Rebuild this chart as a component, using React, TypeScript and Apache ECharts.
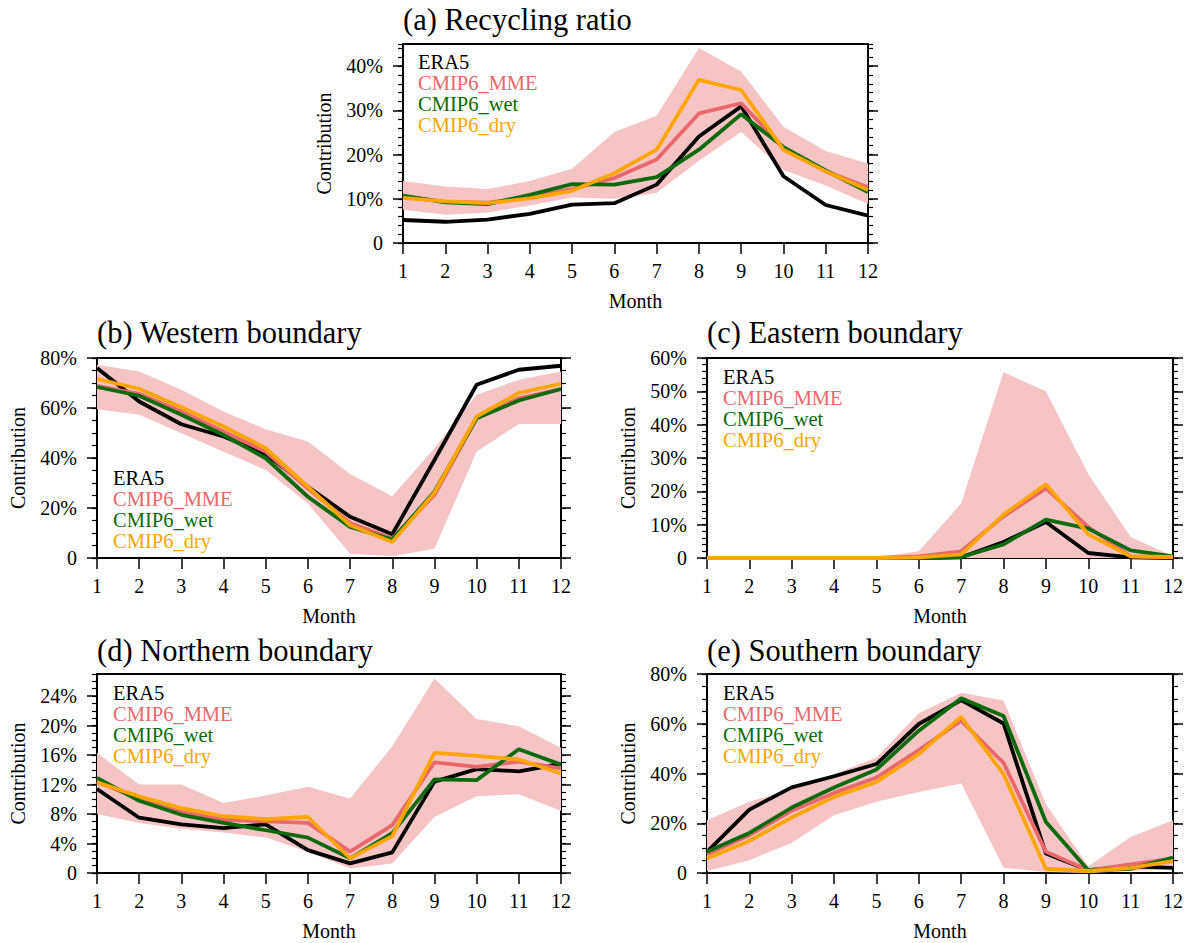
import React, { useEffect, useRef } from "react";
import * as echarts from "echarts";

const months = ["1", "2", "3", "4", "5", "6", "7", "8", "9", "10", "11", "12"];
const seriesNames = ["ERA5", "CMIP6_MME", "CMIP6_wet", "CMIP6_dry"];
const seriesColors = ["#000000", "#e8686c", "#0b6b0b", "#ffa500"];
const bandColor = "#f7c4c6";

// (a) Recycling ratio
const aERA5 = [5.2, 4.8, 5.3, 6.6, 8.7, 9.0, 13.2, 24.1, 30.9, 15.1, 8.6, 6.2];
const aMME = [10.6, 9.3, 9.1, 10.3, 12.2, 14.7, 18.9, 29.3, 31.6, 21.5, 16.2, 12.6];
const aWet = [10.7, 9.2, 8.8, 10.9, 13.3, 13.2, 14.9, 21.1, 29.1, 21.7, 16.4, 11.5];
const aDry = [10.2, 9.4, 9.0, 10.1, 11.8, 15.8, 21.1, 36.9, 34.6, 21.1, 16.2, 12.0];
const aLow = [7.5, 6.4, 6.9, 8.5, 10.3, 10.0, 11.3, 18.6, 25.1, 16.5, 13.0, 8.8];
const aHigh = [14.0, 12.8, 12.2, 14.0, 16.8, 25.1, 28.8, 44.1, 38.8, 26.3, 20.8, 18.0];

// (b) Western boundary
const bERA5 = [76.0, 62.6, 53.5, 48.6, 41.6, 28.5, 16.5, 9.5, 39.2, 69.3, 75.3, 76.9];
const bMME = [68.9, 65.7, 58.6, 50.6, 42.5, 27.8, 14.0, 7.8, 25.2, 55.9, 63.9, 67.6];
const bWet = [68.4, 64.9, 57.3, 49.2, 39.9, 24.5, 12.4, 7.4, 26.5, 55.9, 63.0, 67.6];
const bDry = [71.6, 67.7, 60.3, 52.6, 43.9, 28.5, 13.1, 6.4, 26.1, 56.6, 66.0, 69.7];
const bLow = [59.5, 57.3, 49.9, 42.5, 35.2, 21.8, 1.7, 0.7, 3.7, 42.5, 53.6, 53.6];
const bHigh = [77.3, 74.6, 67.3, 58.6, 51.5, 46.6, 33.6, 24.7, 43.9, 65.3, 71.3, 74.6];

// (c) Eastern boundary
const cERA5 = [0, 0, 0, 0, 0, 0, 0.2, 4.8, 10.8, 1.5, 0.2, 0];
const cMME = [0, 0, 0, 0, 0, 0.5, 2.0, 12.5, 20.9, 9.3, 0.5, 0.2];
const cWet = [0, 0, 0, 0, 0, 0, 0.3, 4.1, 11.5, 8.8, 2.3, 0.5];
const cDry = [0, 0, 0, 0, 0, 0.2, 1.1, 13.0, 22.1, 7.1, 0.5, 0.3];
const cLow = [0, 0, 0, 0, 0, 0, 0, 0, 0, 0, 0, 0];
const cHigh = [0, 0, 0, 0, 0.2, 2.0, 16.4, 55.7, 50.0, 25.2, 6.3, 0.5];

// (d) Northern boundary
const dERA5 = [11.4, 7.5, 6.6, 6.1, 6.6, 3.1, 1.3, 2.8, 12.4, 14.1, 13.8, 14.8];
const dMME = [12.4, 10.0, 8.3, 7.2, 7.0, 6.8, 2.9, 6.5, 15.0, 14.4, 15.1, 14.2];
const dWet = [12.9, 9.8, 7.9, 6.8, 5.8, 4.8, 2.0, 5.4, 12.7, 12.6, 16.8, 14.7];
const dDry = [12.3, 10.4, 8.8, 7.7, 7.3, 7.6, 2.0, 5.0, 16.3, 15.9, 15.4, 13.5];
const dLow = [8.0, 6.8, 6.0, 5.5, 4.8, 2.9, 0.6, 1.3, 7.6, 10.4, 10.7, 8.4];
const dHigh = [16.3, 12.0, 12.0, 9.5, 10.5, 11.7, 10.1, 17.2, 26.4, 20.9, 19.9, 17.0];

// (e) Southern boundary
const eERA5 = [8.5, 25.5, 34.4, 38.9, 43.8, 59.9, 69.5, 60.1, 7.8, 1.1, 2.7, 2.1];
const eMME = [7.5, 15.2, 25.0, 32.2, 38.4, 49.4, 61.2, 44.3, 8.5, 1.1, 3.5, 5.8];
const eWet = [8.5, 16.1, 26.3, 34.4, 41.6, 57.2, 70.2, 63.1, 20.5, 1.1, 1.7, 6.2];
const eDry = [5.8, 12.9, 22.3, 30.6, 36.6, 47.8, 62.8, 39.7, 1.7, 0.8, 2.1, 4.8];
const eLow = [0.8, 5.1, 12.1, 23.2, 28.6, 32.6, 36.0, 2.1, 0.4, 0, 0.8, 1.7];
const eHigh = [21.2, 28.6, 33.6, 39.7, 46.4, 64.2, 72.5, 69.3, 27.7, 2.7, 14.5, 21.2];

// y-axis tick values
const aTicks = [0, 10, 20, 30, 40];
const bTicks = [0, 20, 40, 60, 80];
const cTicks = [0, 10, 20, 30, 40, 50, 60];
const dTicks = [0, 4, 8, 12, 16, 20, 24];
const eTicks = [0, 20, 40, 60, 80];

const FONT = "'Liberation Serif', 'Times New Roman', serif";

const panels = [
  { title: "(a) Recycling ratio", lines: [aERA5, aMME, aWet, aDry], low: aLow, high: aHigh, max: 45, ticks: aTicks, minor: 2,
    grid: { left: 403, top: 44, width: 465, height: 199 }, titlePos: { left: 403, top: 5 }, legendPos: { left: 413, top: 51 } },
  { title: "(b) Western boundary", lines: [bERA5, bMME, bWet, bDry], low: bLow, high: bHigh, max: 80, ticks: bTicks, minor: 5,
    grid: { left: 97, top: 358, width: 464, height: 200 }, titlePos: { left: 97, top: 318 }, legendPos: { left: 108, top: 467 } },
  { title: "(c) Eastern boundary", lines: [cERA5, cMME, cWet, cDry], low: cLow, high: cHigh, max: 60, ticks: cTicks, minor: 2,
    grid: { left: 707, top: 358, width: 466, height: 200 }, titlePos: { left: 707, top: 318 }, legendPos: { left: 718, top: 366 } },
  { title: "(d) Northern boundary", lines: [dERA5, dMME, dWet, dDry], low: dLow, high: dHigh, max: 27, ticks: dTicks, minor: 1,
    grid: { left: 97, top: 674, width: 464, height: 199 }, titlePos: { left: 97, top: 636 }, legendPos: { left: 108, top: 682 } },
  { title: "(e) Southern boundary", lines: [eERA5, eMME, eWet, eDry], low: eLow, high: eHigh, max: 80, ticks: eTicks, minor: 5,
    grid: { left: 707, top: 674, width: 466, height: 199 }, titlePos: { left: 707, top: 636 }, legendPos: { left: 718, top: 682 } },
];

function pct(v: number) {
  return v === 0 ? "0" : v + "%";
}

function buildOption() {
  const title: any[] = [];
  const grid: any[] = [];
  const xAxis: any[] = [];
  const yAxis: any[] = [];
  const series: any[] = [];
  const legend: any[] = [];

  panels.forEach((p, i) => {
    title.push({
      text: p.title,
      left: p.titlePos.left,
      top: p.titlePos.top,
      padding: 0,
      textStyle: { fontFamily: FONT, fontSize: 30.5, lineHeight: 30, fontWeight: "normal", color: "#000" },
    });
    grid.push({ ...p.grid, show: true, borderColor: "#000", borderWidth: 2, backgroundColor: "transparent", containLabel: false });
    xAxis.push({
      type: "category",
      gridIndex: i,
      data: months,
      boundaryGap: false,
      axisLine: { show: true, lineStyle: { color: "#000", width: 2 } },
      axisTick: { show: true, alignWithLabel: true, length: 11, lineStyle: { color: "#000", width: 1.5 } },
      axisLabel: { margin: 18, fontFamily: FONT, fontSize: 20, color: "#000" },
      splitLine: { show: false },
      name: "Month",
      nameLocation: "middle",
      nameGap: 48,
      nameTextStyle: { fontFamily: FONT, fontSize: 20, color: "#000" },
    });
    const base = yAxis.length;
    // left major
    yAxis.push({
      type: "value",
      gridIndex: i,
      position: "left",
      min: 0,
      max: p.max,
      axisLine: { show: true, lineStyle: { color: "#000", width: 2 } },
      axisTick: { show: true, length: 10, customValues: p.ticks, lineStyle: { color: "#000", width: 1.5 } },
      axisLabel: { customValues: p.ticks, formatter: pct, margin: 20, fontFamily: FONT, fontSize: 20, color: "#000" },
      splitLine: { show: false },
      name: "Contribution",
      nameLocation: "middle",
      nameGap: 69,
      nameTextStyle: { fontFamily: FONT, fontSize: 20, color: "#000" },
    });
    // left minor
    yAxis.push({
      type: "value",
      gridIndex: i,
      position: "left",
      min: 0,
      max: p.max,
      interval: p.minor,
      axisLine: { show: false },
      axisTick: { show: true, length: 5, lineStyle: { color: "#000", width: 1.2 } },
      axisLabel: { show: false },
      splitLine: { show: false },
    });
    // right major
    yAxis.push({
      type: "value",
      gridIndex: i,
      position: "right",
      min: 0,
      max: p.max,
      axisLine: { show: true, lineStyle: { color: "#000", width: 2 } },
      axisTick: { show: true, length: 10, customValues: p.ticks, lineStyle: { color: "#000", width: 1.5 } },
      axisLabel: { show: false },
      splitLine: { show: false },
    });
    // right minor
    yAxis.push({
      type: "value",
      gridIndex: i,
      position: "right",
      min: 0,
      max: p.max,
      interval: p.minor,
      axisLine: { show: false },
      axisTick: { show: true, length: 5, lineStyle: { color: "#000", width: 1.2 } },
      axisLabel: { show: false },
      splitLine: { show: false },
    });

    const stack = "band" + i;
    series.push({
      type: "line",
      name: "range_low_" + i,
      xAxisIndex: i,
      yAxisIndex: base,
      data: p.low,
      stack,
      symbol: "none",
      silent: true,
      lineStyle: { opacity: 0, width: 0 },
    });
    series.push({
      type: "line",
      name: "range_high_" + i,
      xAxisIndex: i,
      yAxisIndex: base,
      data: p.high.map((h, k) => +(h - p.low[k]).toFixed(2)),
      stack,
      symbol: "none",
      silent: true,
      lineStyle: { opacity: 0, width: 0 },
      areaStyle: { color: bandColor, opacity: 1 },
    });
    p.lines.forEach((arr, k) => {
      series.push({
        type: "line",
        name: seriesNames[k],
        xAxisIndex: i,
        yAxisIndex: base,
        data: arr,
        symbol: "none",
        color: seriesColors[k],
        lineStyle: { color: seriesColors[k], width: 3.8 },
        z: 3 + k,
      });
    });

    legend.push({
      left: p.legendPos.left,
      top: p.legendPos.top,
      orient: "vertical",
      padding: 0,
      itemGap: 0,
      itemWidth: 0,
      itemHeight: 10,
      icon: "none",
      selectedMode: false,
      textStyle: { fontFamily: FONT, fontSize: 20.5, lineHeight: 21 },
      data: seriesNames.map((n, k) => ({ name: n, icon: "none", textStyle: { color: seriesColors[k] } })),
    });
  });

  return {
    animation: false,
    backgroundColor: "#ffffff",
    textStyle: { fontFamily: FONT },
    title,
    grid,
    xAxis,
    yAxis,
    series,
    legend,
  };
}

export default function App() {
  const ref = useRef<HTMLDivElement>(null);
  useEffect(() => {
    if (!ref.current) return;
    const chart = echarts.init(ref.current, undefined, { renderer: "svg" });
    chart.setOption(buildOption() as any);
    return () => chart.dispose();
  }, []);
  return (
    <div
      ref={ref}
      style={{ position: "absolute", left: 0, top: 0, width: 1187, height: 943, background: "#fff" }}
    />
  );
}
